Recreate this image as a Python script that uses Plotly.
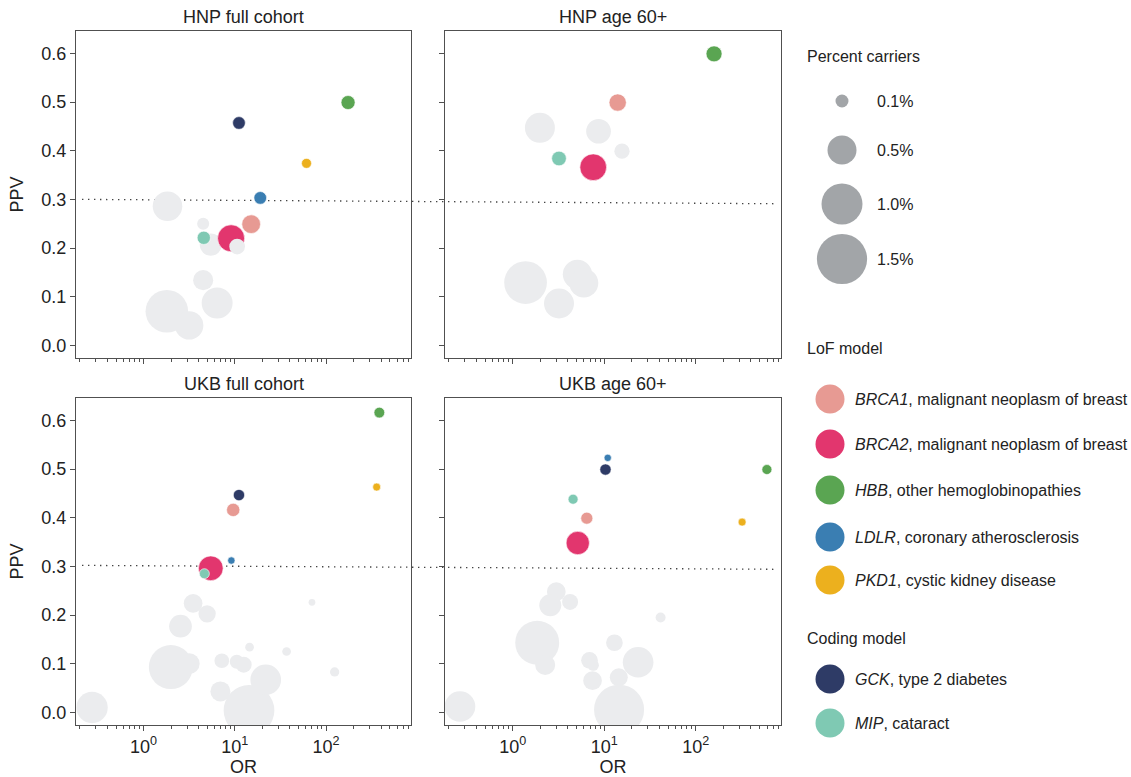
import plotly.graph_objects as go

# ---------------- data ----------------
genes = ["BRCA1", "BRCA2", "HBB", "LDLR", "PKD1", "GCK", "MIP"]
gene_labels = [
    "<i>BRCA1</i>, malignant neoplasm of breast",
    "<i>BRCA2</i>, malignant neoplasm of breast",
    "<i>HBB</i>, other hemoglobinopathies",
    "<i>LDLR</i>, coronary atherosclerosis",
    "<i>PKD1</i>, cystic kidney disease",
    "<i>GCK</i>, type 2 diabetes",
    "<i>MIP</i>, cataract",
]
gene_colors = ["#E79A93", "#E2366E", "#5AA552", "#3A7EB2", "#ECB01E", "#2E3B66", "#7FC9B3"]
gene_model = ["LoF", "LoF", "LoF", "LoF", "LoF", "Coding", "Coding"]

panel_titles = ["HNP full cohort", "HNP age 60+", "UKB full cohort", "UKB age 60+"]

# highlighted genes (order as in `genes`; None = not shown)
hnp_full_or = [15.1, 9.1, 174, 19, 61, 11.1, 4.57]
hnp_full_ppv = [0.249, 0.220, 0.499, 0.303, 0.374, 0.457, 0.221]
hnp_full_pct = [0.208, 0.434, 0.117, 0.096, 0.059, 0.096, 0.105]

hnp_60_or = [14, 7.57, 158, None, None, None, 3.2]
hnp_60_ppv = [0.499, 0.366, 0.599, None, None, None, 0.384]
hnp_60_pct = [0.178, 0.424, 0.152, None, None, None, 0.128]

ukb_full_or = [9.6, 5.45, 383, 9.16, 358, 11.1, 4.64]
ukb_full_ppv = [0.416, 0.296, 0.616, 0.312, 0.463, 0.4465, 0.285]
ukb_full_pct = [0.105, 0.363, 0.068, 0.032, 0.038, 0.076, 0.059]

ukb_60_or = [6.44, 5.13, 597, 10.9, 320, 10.3, 4.56]
ukb_60_ppv = [0.399, 0.348, 0.499, 0.523, 0.391, 0.499, 0.438]
ukb_60_pct = [0.086, 0.323, 0.059, 0.032, 0.038, 0.076, 0.059]

# other gene-disease pairs (grey)
hnp_full_bg_or = [1.83, 4.5, 5.45, 10.6, 4.5, 6.4, 1.8, 3.16]
hnp_full_bg_ppv = [0.286, 0.250, 0.207, 0.203, 0.134, 0.087, 0.070, 0.041]
hnp_full_bg_pct = [0.52, 0.086, 0.29, 0.146, 0.24, 0.57, 1.08, 0.48]
hnp_full_bg_front = [False, False, False, True, False, False, False, False]

hnp_60_bg_or = [1.98, 8.65, 15.6, 1.38, 5.09, 5.97, 3.2]
hnp_60_bg_ppv = [0.447, 0.440, 0.399, 0.129, 0.146, 0.128, 0.086]
hnp_60_bg_pct = [0.535, 0.363, 0.139, 1.085, 0.51, 0.50, 0.535]
hnp_60_bg_front = [False] * 7

ukb_full_bg_or = [0.273, 1.99, 3.16, 3.49, 4.97, 2.54, 7.2, 10.5, 12.5, 14.5, 6.95, 14.3, 21.8, 36.9, 70, 124]
ukb_full_bg_ppv = [0.010, 0.093, 0.100, 0.224, 0.2025, 0.177, 0.106, 0.104, 0.098, 0.134, 0.043, 0.004, 0.067, 0.125, 0.226, 0.083]
ukb_full_bg_pct = [0.583, 1.15, 0.262, 0.208, 0.178, 0.307, 0.128, 0.117, 0.152, 0.045, 0.238, 1.53, 0.56, 0.045, 0.027, 0.051]
ukb_full_bg_front = [False] * 16

ukb_60_bg_or = [0.265, 1.85, 2.26, 2.99, 2.57, 4.23, 12.9, 6.89, 7.57, 7.44, 14.4, 23.4, 14.5, 41.2]
ukb_60_bg_ppv = [0.012, 0.143, 0.0975, 0.248, 0.220, 0.227, 0.143, 0.107, 0.097, 0.065, 0.072, 0.103, 0.0055, 0.195]
ukb_60_bg_pct = [0.56, 1.15, 0.238, 0.208, 0.288, 0.152, 0.166, 0.166, 0.076, 0.208, 0.193, 0.56, 1.49, 0.059]
ukb_60_bg_front = [False] * 14

ppv_threshold_top = (0.300, 0.291)
ppv_threshold_bottom = (0.302, 0.294)

size_legend_pct = [0.1, 0.5, 1.0, 1.5]
size_legend_labels = ["0.1%", "0.5%", "1.0%", "1.5%"]

x_tick_vals = [1, 10, 100]
x_tick_text = ["10<sup>0</sup>", "10<sup>1</sup>", "10<sup>2</sup>"]
y_tick_vals = [0.0, 0.1, 0.2, 0.3, 0.4, 0.5, 0.6]
y_tick_text = ["0.0", "0.1", "0.2", "0.3", "0.4", "0.5", "0.6"]

# ---------------- styling ----------------
W, H = 1131, 777
FONT = "Liberation Sans, Arial, Helvetica, sans-serif"
TXT = "#222222"
FRAME = "#505050"
GREY = "#EBECEE"
LEG_GREY = "#A2A5A8"
SIZEREF = 2.0 / 41.0 ** 2  # 1.0% carriers -> 41 px diameter

xdom = [(76 / W, 411 / W), (445 / W, 781 / W)]
ydom = [(1 - 358 / H, 1 - 31 / H), (1 - 725 / H, 1 - 398 / H)]
XRANGE = [-0.74, 2.93]
YRANGE = [-0.026, 0.646]

minor_x = [m * 10 ** e for e in range(-1, 3) for m in range(2, 10) if 0.18 < m * 10 ** e < 900]

panels = [
    (hnp_full_or, hnp_full_ppv, hnp_full_pct, hnp_full_bg_or, hnp_full_bg_ppv, hnp_full_bg_pct, hnp_full_bg_front),
    (hnp_60_or, hnp_60_ppv, hnp_60_pct, hnp_60_bg_or, hnp_60_bg_ppv, hnp_60_bg_pct, hnp_60_bg_front),
    (ukb_full_or, ukb_full_ppv, ukb_full_pct, ukb_full_bg_or, ukb_full_bg_ppv, ukb_full_bg_pct, ukb_full_bg_front),
    (ukb_60_or, ukb_60_ppv, ukb_60_pct, ukb_60_bg_or, ukb_60_bg_ppv, ukb_60_bg_pct, ukb_60_bg_front),
]

fig = go.Figure()
layout = dict(
    width=W, height=H, margin=dict(l=0, r=0, t=0, b=0),
    paper_bgcolor="white", plot_bgcolor="white",
    font=dict(family=FONT, size=18, color=TXT),
    showlegend=False,
)
annotations = []
shapes = []

for i, (o, p, s, bo, bp, bs, bf) in enumerate(panels):
    row, col = divmod(i, 2)
    ax = "" if i == 0 else str(i + 1)
    xr, yr = "x" + ax, "y" + ax

    def grey_trace(sel):
        xs = [v for v, f in zip(bo, bf) if f == sel]
        ys = [v for v, f in zip(bp, bf) if f == sel]
        ss = [v for v, f in zip(bs, bf) if f == sel]
        return go.Scatter(x=xs, y=ys, mode="markers", xaxis=xr, yaxis=yr,
                          marker=dict(size=ss, sizemode="area", sizeref=SIZEREF, opacity=1,
                                      color=GREY, line=dict(width=0)),
                          hoverinfo="skip")

    fig.add_trace(grey_trace(False))
    for g in range(len(genes)):
        if o[g] is None:
            continue
        fig.add_trace(go.Scatter(
            x=[o[g]], y=[p[g]], mode="markers", xaxis=xr, yaxis=yr, name=genes[g],
            marker=dict(size=[s[g]], sizemode="area", sizeref=SIZEREF, opacity=1,
                        color=gene_colors[g], line=dict(width=0.6, color="white"))))
    fig.add_trace(grey_trace(True))

    common = dict(showline=True, mirror=True, linecolor=FRAME, linewidth=1.4,
                  ticks="outside", tickcolor=FRAME, tickwidth=1, ticklen=5,
                  showgrid=False, zeroline=False, tickfont=dict(size=18, color=TXT))
    xa = dict(common, type="log", range=XRANGE, domain=xdom[col], anchor=yr,
              tickvals=x_tick_vals, ticktext=x_tick_text, showticklabels=(row == 1),
              minor=dict(tickvals=minor_x, ticks="outside", ticklen=3, tickcolor=FRAME, showgrid=False))
    if row == 1:
        xa["title"] = dict(text="OR", standoff=2, font=dict(size=18, color=TXT))
    ya = dict(common, range=YRANGE, domain=ydom[row], anchor=xr,
              tickvals=y_tick_vals, ticktext=y_tick_text, showticklabels=(col == 0))
    if col == 0:
        ya["title"] = dict(text="PPV", standoff=12, font=dict(size=18, color=TXT))
    layout["xaxis" + ax] = xa
    layout["yaxis" + ax] = ya
    annotations.append(dict(text=panel_titles[i], xref="paper", yref="paper",
                            x=(xdom[col][0] + xdom[col][1]) / 2, y=ydom[row][1],
                            xanchor="center", yanchor="bottom", yshift=2, showarrow=False,
                            font=dict(size=18, color=TXT)))

# threshold dotted lines spanning both panels in a row
for yref, (y0, y1) in (("y", ppv_threshold_top), ("y3", ppv_threshold_bottom)):
    shapes.append(dict(type="line", xref="paper", yref=yref, x0=82 / W, x1=776 / W,
                       y0=y0, y1=y1, layer="below",
                       line=dict(color="#444444", width=1.3, dash="1.4px,4.6px")))

# ---------------- legend panel ----------------
LX0 = 0.70
layout["xaxis5"] = dict(domain=[LX0, 1.0], range=[LX0 * W, W], visible=False, anchor="y5")
layout["yaxis5"] = dict(domain=[0, 1], range=[H, 0], visible=False, anchor="x5")

size_leg_y = [101, 150, 204, 259]
fig.add_trace(go.Scatter(
    x=[842] * len(size_legend_pct), y=size_leg_y, mode="markers", xaxis="x5", yaxis="y5",
    marker=dict(size=size_legend_pct, sizemode="area", sizeref=SIZEREF, color=LEG_GREY,
                opacity=1, line=dict(width=0)), hoverinfo="skip"))
for lab, yy in zip(size_legend_labels, size_leg_y):
    annotations.append(dict(text=lab, xref="x5", yref="y5", x=875, y=yy, xanchor="left",
                            yanchor="middle", showarrow=False, font=dict(size=16, color=TXT)))

for lab, yy in (("Percent carriers", 56), ("LoF model", 348), ("Coding model", 638)):
    annotations.append(dict(text=lab, xref="x5", yref="y5", x=805, y=yy,
                            xanchor="left", yanchor="middle", showarrow=False,
                            font=dict(size=16, color=TXT)))

gene_leg_y = [399, 444, 490, 537, 580, 679, 723]
fig.add_trace(go.Scatter(
    x=[830] * len(genes), y=gene_leg_y, mode="markers", xaxis="x5", yaxis="y5",
    marker=dict(size=29, color=gene_colors, opacity=1, line=dict(width=0)), hoverinfo="skip"))
for lab, yy in zip(gene_labels, gene_leg_y):
    annotations.append(dict(text=lab, xref="x5", yref="y5", x=853, y=yy, xanchor="left",
                            yanchor="middle", showarrow=False, font=dict(size=16, color=TXT)))

layout["annotations"] = annotations
layout["shapes"] = shapes
fig.update_layout(**layout)
fig.write_html("out.html", config={"displayModeBar": False},
               post_script="document.body.style.margin='0px';document.body.style.overflow='hidden';")
